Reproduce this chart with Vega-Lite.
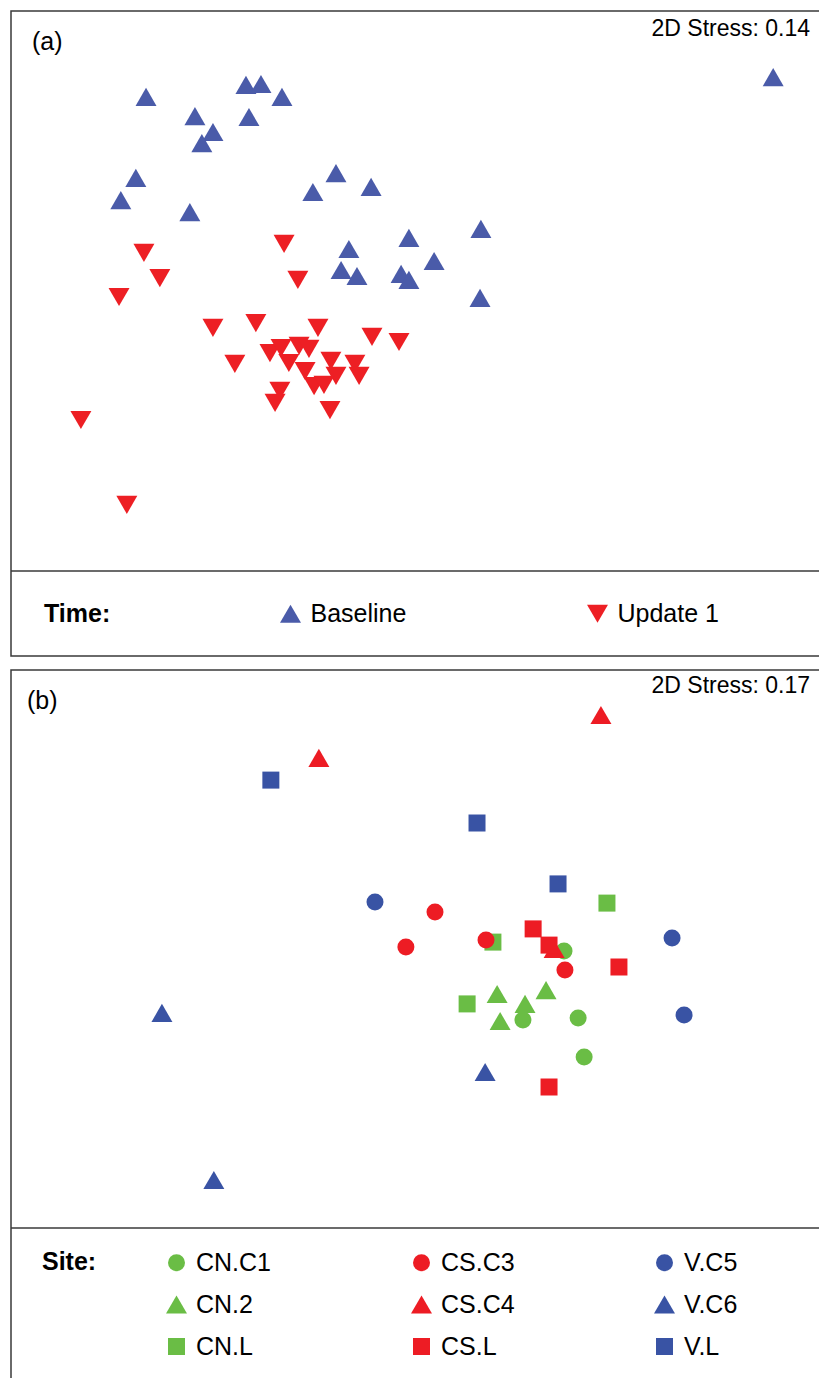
{
  "$schema": "https://vega.github.io/schema/vega-lite/v6.json",
  "padding": {"left": 9, "top": 10, "right": 0, "bottom": 0},
  "spacing": 12,
  "config": {
    "view": {"stroke": "#3a3a3a", "strokeWidth": 1.5},
    "font": "Liberation Sans",
    "legend": {"labelFont": "Liberation Sans", "labelFontSize": 25, "labelColor": "#000000", "titleFont": "Liberation Sans", "titleFontSize": 25, "titleFontWeight": "bold", "titleColor": "#000000", "padding": 0, "symbolStrokeWidth": 0}
  },
  "resolve": {
    "scale": {"color": "independent", "shape": "independent", "size": "independent"},
    "legend": {"color": "independent", "shape": "independent", "size": "independent"}
  },
  "vconcat": [
    {
      "width": 809,
      "height": 645,
      "layer": [
        {
          "data": {"values": [{}]},
          "mark": {"type": "rule", "color": "#3a3a3a", "strokeWidth": 1.5},
          "encoding": {"y": {"datum": -0.9333, "scale": {"domain": [-1.2167, 0.9333], "nice": false, "zero": false}, "axis": null}}
        },
        {
          "data": {"values": [
            {"x": -0.898, "y": 0.647, "time": "Baseline"},
            {"x": -0.735, "y": 0.583, "time": "Baseline"},
            {"x": -0.565, "y": 0.687, "time": "Baseline"},
            {"x": -0.515, "y": 0.690, "time": "Baseline"},
            {"x": -0.445, "y": 0.647, "time": "Baseline"},
            {"x": -0.555, "y": 0.580, "time": "Baseline"},
            {"x": -0.675, "y": 0.530, "time": "Baseline"},
            {"x": -0.712, "y": 0.493, "time": "Baseline"},
            {"x": -0.932, "y": 0.377, "time": "Baseline"},
            {"x": -0.982, "y": 0.303, "time": "Baseline"},
            {"x": -0.752, "y": 0.263, "time": "Baseline"},
            {"x": -0.265, "y": 0.393, "time": "Baseline"},
            {"x": -0.342, "y": 0.330, "time": "Baseline"},
            {"x": -0.148, "y": 0.347, "time": "Baseline"},
            {"x": -0.222, "y": 0.140, "time": "Baseline"},
            {"x": -0.248, "y": 0.070, "time": "Baseline"},
            {"x": -0.195, "y": 0.050, "time": "Baseline"},
            {"x": -0.022, "y": 0.177, "time": "Baseline"},
            {"x": -0.048, "y": 0.057, "time": "Baseline"},
            {"x": -0.022, "y": 0.037, "time": "Baseline"},
            {"x": 0.062, "y": 0.100, "time": "Baseline"},
            {"x": 0.218, "y": 0.207, "time": "Baseline"},
            {"x": 0.215, "y": -0.023, "time": "Baseline"},
            {"x": 1.192, "y": 0.713, "time": "Baseline"},
            {"x": -0.905, "y": 0.127, "time": "Update 1"},
            {"x": -0.852, "y": 0.043, "time": "Update 1"},
            {"x": -0.988, "y": -0.020, "time": "Update 1"},
            {"x": -0.438, "y": 0.157, "time": "Update 1"},
            {"x": -0.392, "y": 0.037, "time": "Update 1"},
            {"x": -0.675, "y": -0.123, "time": "Update 1"},
            {"x": -0.532, "y": -0.107, "time": "Update 1"},
            {"x": -0.325, "y": -0.123, "time": "Update 1"},
            {"x": -0.145, "y": -0.153, "time": "Update 1"},
            {"x": -0.055, "y": -0.170, "time": "Update 1"},
            {"x": -0.602, "y": -0.243, "time": "Update 1"},
            {"x": -0.485, "y": -0.207, "time": "Update 1"},
            {"x": -0.448, "y": -0.190, "time": "Update 1"},
            {"x": -0.388, "y": -0.183, "time": "Update 1"},
            {"x": -0.355, "y": -0.193, "time": "Update 1"},
            {"x": -0.422, "y": -0.240, "time": "Update 1"},
            {"x": -0.368, "y": -0.267, "time": "Update 1"},
            {"x": -0.282, "y": -0.233, "time": "Update 1"},
            {"x": -0.202, "y": -0.243, "time": "Update 1"},
            {"x": -0.265, "y": -0.283, "time": "Update 1"},
            {"x": -0.188, "y": -0.283, "time": "Update 1"},
            {"x": -0.338, "y": -0.317, "time": "Update 1"},
            {"x": -0.305, "y": -0.313, "time": "Update 1"},
            {"x": -0.452, "y": -0.333, "time": "Update 1"},
            {"x": -0.468, "y": -0.373, "time": "Update 1"},
            {"x": -0.285, "y": -0.397, "time": "Update 1"},
            {"x": -1.115, "y": -0.430, "time": "Update 1"},
            {"x": -0.962, "y": -0.713, "time": "Update 1"}
          ]},
          "mark": {"type": "point", "filled": true, "opacity": 1, "size": 440},
          "encoding": {
            "x": {"field": "x", "type": "quantitative", "scale": {"domain": [-1.348, 1.348], "nice": false, "zero": false}, "axis": null},
            "y": {"field": "y", "type": "quantitative", "scale": {"domain": [-1.2167, 0.9333], "nice": false, "zero": false}, "axis": null},
            "shape": {"field": "time", "type": "nominal", "scale": {"domain": ["Baseline", "Update 1"], "range": ["triangle-up", "triangle-down"]},
              "legend": {"title": "Time:", "orient": "none", "legendX": 33, "legendY": 590, "direction": "horizontal", "titleOrient": "left", "titlePadding": 167, "columnPadding": 178, "labelOffset": 7.5, "symbolSize": 440}},
            "color": {"field": "time", "type": "nominal", "scale": {"domain": ["Baseline", "Update 1"], "range": ["#4a5ba9", "#ed1f24"]},
              "legend": {"title": "Time:", "orient": "none", "legendX": 33, "legendY": 590, "direction": "horizontal", "titleOrient": "left", "titlePadding": 167, "columnPadding": 178, "labelOffset": 7.5, "symbolSize": 440}}
          }
        },
        {
          "data": {"values": [{"t": "(a)"}]},
          "mark": {"type": "text", "align": "left", "baseline": "middle", "fontSize": 25, "font": "Liberation Sans", "color": "#000000"},
          "encoding": {"x": {"datum": -1.278, "axis": null}, "y": {"datum": 0.83, "axis": null}, "text": {"field": "t", "type": "nominal"}}
        },
        {
          "data": {"values": [{"t": "2D Stress: 0.14"}]},
          "mark": {"type": "text", "align": "right", "baseline": "middle", "fontSize": 23, "font": "Liberation Sans", "color": "#000000"},
          "encoding": {"x": {"datum": 1.315, "axis": null}, "y": {"datum": 0.873, "axis": null}, "text": {"field": "t", "type": "nominal"}}
        }
      ]
    },
    {
      "width": 809,
      "height": 709,
      "layer": [
        {
          "data": {"values": [{}]},
          "mark": {"type": "rule", "color": "#3a3a3a", "strokeWidth": 1.5},
          "encoding": {"y": {"datum": -0.93, "scale": {"domain": [-1.4333, 0.93], "nice": false, "zero": false}, "axis": null}}
        },
        {
          "data": {"values": [
            {"x": 0.495, "y": -0.007, "site": "CN.C1"},
            {"x": 0.358, "y": -0.237, "site": "CN.C1"},
            {"x": 0.542, "y": -0.230, "site": "CN.C1"},
            {"x": 0.562, "y": -0.360, "site": "CN.C1"},
            {"x": 0.272, "y": -0.150, "site": "CN.2"},
            {"x": 0.435, "y": -0.137, "site": "CN.2"},
            {"x": 0.365, "y": -0.183, "site": "CN.2"},
            {"x": 0.282, "y": -0.240, "site": "CN.2"},
            {"x": 0.638, "y": 0.153, "site": "CN.L"},
            {"x": 0.258, "y": 0.023, "site": "CN.L"},
            {"x": 0.172, "y": -0.183, "site": "CN.L"},
            {"x": -0.032, "y": 0.007, "site": "CS.C3"},
            {"x": 0.065, "y": 0.123, "site": "CS.C3"},
            {"x": 0.235, "y": 0.030, "site": "CS.C3"},
            {"x": 0.498, "y": -0.070, "site": "CS.C3"},
            {"x": -0.322, "y": 0.637, "site": "CS.C4"},
            {"x": 0.618, "y": 0.780, "site": "CS.C4"},
            {"x": 0.462, "y": 0.000, "site": "CS.C4"},
            {"x": 0.392, "y": 0.067, "site": "CS.L"},
            {"x": 0.445, "y": 0.013, "site": "CS.L"},
            {"x": 0.678, "y": -0.060, "site": "CS.L"},
            {"x": 0.445, "y": -0.460, "site": "CS.L"},
            {"x": -0.135, "y": 0.157, "site": "V.C5"},
            {"x": 0.855, "y": 0.037, "site": "V.C5"},
            {"x": 0.895, "y": -0.220, "site": "V.C5"},
            {"x": -0.845, "y": -0.213, "site": "V.C6"},
            {"x": -0.672, "y": -0.770, "site": "V.C6"},
            {"x": 0.232, "y": -0.410, "site": "V.C6"},
            {"x": -0.482, "y": 0.563, "site": "V.L"},
            {"x": 0.205, "y": 0.420, "site": "V.L"},
            {"x": 0.475, "y": 0.217, "site": "V.L"}
          ]},
          "mark": {"type": "point", "filled": true, "opacity": 1},
          "encoding": {
            "x": {"field": "x", "type": "quantitative", "scale": {"domain": [-1.348, 1.348], "nice": false, "zero": false}, "axis": null},
            "y": {"field": "y", "type": "quantitative", "scale": {"domain": [-1.4333, 0.93], "nice": false, "zero": false}, "axis": null},
            "shape": {"field": "site", "type": "nominal",
              "scale": {"domain": ["CN.C1", "CS.C3", "V.C5", "CN.2", "CS.C4", "V.C6", "CN.L", "CS.L", "V.L"], "range": ["circle", "circle", "circle", "triangle-up", "triangle-up", "triangle-up", "square", "square", "square"]},
              "legend": {"title": "Site:", "orient": "none", "legendX": 31, "legendY": 580, "direction": "horizontal", "columns": 3, "titleOrient": "left", "titleAnchor": "start", "titlePadding": 67, "columnPadding": 137, "rowPadding": 16, "labelOffset": 7}},
            "color": {"field": "site", "type": "nominal",
              "scale": {"domain": ["CN.C1", "CS.C3", "V.C5", "CN.2", "CS.C4", "V.C6", "CN.L", "CS.L", "V.L"], "range": ["#6abd45", "#ed1c24", "#3953a4", "#6abd45", "#ed1c24", "#3953a4", "#6abd45", "#ed1c24", "#3953a4"]},
              "legend": {"title": "Site:", "orient": "none", "legendX": 31, "legendY": 580, "direction": "horizontal", "columns": 3, "titleOrient": "left", "titleAnchor": "start", "titlePadding": 67, "columnPadding": 137, "rowPadding": 16, "labelOffset": 7}},
            "size": {"field": "site", "type": "nominal",
              "scale": {"type": "ordinal", "domain": ["CN.C1", "CS.C3", "V.C5", "CN.2", "CS.C4", "V.C6", "CN.L", "CS.L", "V.L"], "range": [289, 289, 289, 440, 440, 440, 289, 289, 289]},
              "legend": {"title": "Site:", "orient": "none", "legendX": 31, "legendY": 580, "direction": "horizontal", "columns": 3, "titleOrient": "left", "titleAnchor": "start", "titlePadding": 67, "columnPadding": 137, "rowPadding": 16, "labelOffset": 7}}
          }
        },
        {
          "data": {"values": [{"t": "(b)"}]},
          "mark": {"type": "text", "align": "left", "baseline": "middle", "fontSize": 25, "font": "Liberation Sans", "color": "#000000"},
          "encoding": {"x": {"datum": -1.295, "axis": null}, "y": {"datum": 0.827, "axis": null}, "text": {"field": "t", "type": "nominal"}}
        },
        {
          "data": {"values": [{"t": "2D Stress: 0.17"}]},
          "mark": {"type": "text", "align": "right", "baseline": "middle", "fontSize": 23, "font": "Liberation Sans", "color": "#000000"},
          "encoding": {"x": {"datum": 1.315, "axis": null}, "y": {"datum": 0.877, "axis": null}, "text": {"field": "t", "type": "nominal"}}
        }
      ]
    }
  ]
}
